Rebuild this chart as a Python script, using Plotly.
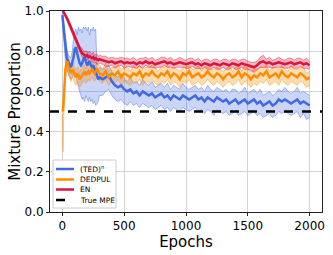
import plotly.graph_objects as go

# ---- data ----
epochs_early = [0, 5, 10, 15, 20, 25, 30, 35, 40, 50,
                60, 70, 80, 90, 100, 110, 120, 130, 140, 150,
                160, 170, 180, 190, 200, 210, 220, 230, 240, 250,
                260, 270, 280, 290, 300]
epochs_late = [325, 350, 375, 400, 425, 450, 475, 500, 525, 550,
               575, 600, 625, 650, 675, 700, 725, 750, 775, 800,
               825, 850, 875, 900, 925, 950, 975, 1000, 1025, 1050,
               1075, 1100, 1125, 1150, 1175, 1200, 1225, 1250, 1275, 1300,
               1325, 1350, 1375, 1400, 1425, 1450, 1475, 1500, 1525, 1550,
               1575, 1600, 1625, 1650, 1675, 1700, 1725, 1750, 1775, 1800,
               1825, 1850, 1875, 1900, 1925, 1950, 1975, 2000]
epochs = epochs_early + epochs_late

ted_mean = [0.98, 0.95, 0.90, 0.86, 0.83, 0.80, 0.78, 0.77, 0.76, 0.74,
            0.73, 0.72, 0.74, 0.77, 0.81, 0.82, 0.79, 0.76, 0.74, 0.73,
            0.74, 0.76, 0.77, 0.75, 0.73, 0.74, 0.75, 0.73, 0.72, 0.73,
            0.71, 0.69, 0.67, 0.66, 0.67,
            0.66, 0.67, 0.68, 0.65, 0.63, 0.62, 0.63, 0.61, 0.60, 0.61,
            0.59, 0.60, 0.58, 0.60, 0.59, 0.58, 0.59, 0.57, 0.58, 0.59,
            0.57, 0.58, 0.56, 0.58, 0.57, 0.56, 0.58, 0.57, 0.56, 0.57,
            0.58, 0.56, 0.57, 0.55, 0.57, 0.56, 0.55, 0.57, 0.56, 0.55,
            0.56, 0.54, 0.55, 0.56, 0.54, 0.55, 0.56, 0.54, 0.55, 0.56,
            0.54, 0.55, 0.53, 0.54, 0.55, 0.53, 0.54, 0.56, 0.55, 0.56,
            0.55, 0.54, 0.55, 0.56, 0.54, 0.55, 0.54, 0.53]
ted_hi = [1.00, 0.98, 0.95, 0.92, 0.89, 0.86, 0.84, 0.82, 0.80, 0.78,
          0.77, 0.77, 0.80, 0.86, 0.90, 0.91, 0.88, 0.92, 0.90, 0.91,
          0.89, 0.92, 0.91, 0.92, 0.90, 0.92, 0.88, 0.91, 0.90, 0.92,
          0.90, 0.91, 0.72, 0.71, 0.72,
          0.71, 0.72, 0.73, 0.70, 0.68, 0.67, 0.69, 0.66, 0.65, 0.67,
          0.64, 0.65, 0.63, 0.66, 0.64, 0.63, 0.65, 0.62, 0.63, 0.64,
          0.62, 0.64, 0.61, 0.63, 0.62, 0.61, 0.64, 0.62, 0.61, 0.62,
          0.63, 0.61, 0.62, 0.60, 0.63, 0.61, 0.60, 0.62, 0.61, 0.60,
          0.61, 0.59, 0.61, 0.61, 0.59, 0.60, 0.62, 0.59, 0.60, 0.61,
          0.59, 0.61, 0.58, 0.59, 0.60, 0.58, 0.59, 0.61, 0.60, 0.62,
          0.60, 0.59, 0.60, 0.62, 0.59, 0.60, 0.59, 0.58]
ted_lo = [0.96, 0.91, 0.85, 0.80, 0.77, 0.74, 0.72, 0.71, 0.70, 0.68,
          0.67, 0.66, 0.67, 0.69, 0.70, 0.68, 0.64, 0.62, 0.60, 0.58,
          0.56, 0.57, 0.55, 0.58, 0.56, 0.55, 0.57, 0.55, 0.56, 0.54,
          0.55, 0.53, 0.54, 0.55, 0.58,
          0.58, 0.60, 0.61, 0.58, 0.56, 0.55, 0.56, 0.54, 0.53, 0.55,
          0.53, 0.54, 0.52, 0.54, 0.53, 0.52, 0.53, 0.51, 0.52, 0.53,
          0.51, 0.52, 0.50, 0.52, 0.51, 0.50, 0.52, 0.51, 0.50, 0.51,
          0.52, 0.50, 0.51, 0.49, 0.51, 0.50, 0.48, 0.51, 0.50, 0.49,
          0.50, 0.48, 0.49, 0.50, 0.48, 0.49, 0.50, 0.48, 0.49, 0.50,
          0.48, 0.49, 0.47, 0.48, 0.49, 0.47, 0.48, 0.50, 0.49, 0.50,
          0.49, 0.48, 0.49, 0.50, 0.47, 0.49, 0.46, 0.47]

dedpul_mean = [0.50, 0.51, 0.55, 0.62, 0.68, 0.71, 0.73, 0.74, 0.75, 0.72,
               0.70, 0.69, 0.71, 0.70, 0.68, 0.67, 0.69, 0.68, 0.66, 0.67,
               0.68, 0.69, 0.70, 0.68, 0.69, 0.70, 0.69, 0.70, 0.71, 0.70,
               0.69, 0.70, 0.71, 0.70, 0.69,
               0.68, 0.70, 0.67, 0.69, 0.68, 0.70, 0.67, 0.69, 0.68, 0.67,
               0.69, 0.68, 0.70, 0.67, 0.69, 0.68, 0.70, 0.68, 0.67, 0.69,
               0.68, 0.70, 0.67, 0.69, 0.68, 0.66, 0.69, 0.68, 0.70, 0.67,
               0.68, 0.69, 0.67, 0.68, 0.70, 0.68, 0.67, 0.69, 0.68, 0.66,
               0.68, 0.69, 0.67, 0.68, 0.70, 0.67, 0.69, 0.68, 0.66, 0.68,
               0.67, 0.69, 0.68, 0.70, 0.67, 0.68, 0.69, 0.67, 0.70, 0.68,
               0.67, 0.69, 0.68, 0.67, 0.69, 0.68, 0.66, 0.67]
dedpul_hi = [0.51, 0.55, 0.62, 0.66, 0.71, 0.74, 0.76, 0.77, 0.78, 0.76,
             0.73, 0.73, 0.74, 0.74, 0.71, 0.71, 0.72, 0.72, 0.69, 0.71,
             0.71, 0.73, 0.73, 0.71, 0.73, 0.73, 0.73, 0.73, 0.74, 0.74,
             0.72, 0.74, 0.74, 0.73, 0.73,
             0.71, 0.74, 0.70, 0.72, 0.72, 0.73, 0.71, 0.72, 0.72, 0.70,
             0.73, 0.71, 0.73, 0.71, 0.72, 0.72, 0.73, 0.72, 0.70, 0.72,
             0.72, 0.73, 0.71, 0.72, 0.71, 0.70, 0.72, 0.72, 0.73, 0.71,
             0.71, 0.73, 0.70, 0.72, 0.73, 0.71, 0.71, 0.72, 0.71, 0.70,
             0.71, 0.73, 0.70, 0.72, 0.73, 0.70, 0.73, 0.71, 0.70, 0.71,
             0.71, 0.72, 0.72, 0.73, 0.70, 0.72, 0.72, 0.71, 0.73, 0.71,
             0.70, 0.73, 0.71, 0.71, 0.72, 0.72, 0.69, 0.70]
dedpul_lo = [0.49, 0.30, 0.45, 0.57, 0.64, 0.67, 0.69, 0.70, 0.71, 0.68,
             0.66, 0.65, 0.67, 0.66, 0.64, 0.63, 0.65, 0.64, 0.62, 0.63,
             0.64, 0.65, 0.66, 0.64, 0.65, 0.66, 0.65, 0.66, 0.67, 0.66,
             0.65, 0.66, 0.67, 0.66, 0.65,
             0.64, 0.66, 0.63, 0.65, 0.64, 0.66, 0.63, 0.65, 0.64, 0.63,
             0.65, 0.64, 0.66, 0.63, 0.65, 0.64, 0.66, 0.64, 0.63, 0.65,
             0.64, 0.66, 0.63, 0.65, 0.64, 0.62, 0.65, 0.64, 0.66, 0.63,
             0.64, 0.65, 0.63, 0.64, 0.66, 0.64, 0.63, 0.65, 0.64, 0.62,
             0.64, 0.65, 0.63, 0.64, 0.66, 0.63, 0.65, 0.64, 0.62, 0.64,
             0.63, 0.65, 0.64, 0.66, 0.63, 0.64, 0.65, 0.63, 0.66, 0.64,
             0.63, 0.65, 0.64, 0.63, 0.65, 0.64, 0.62, 0.63]

en_mean = [1.00, 1.00, 0.995, 0.99, 0.985, 0.98, 0.975, 0.97, 0.96, 0.945,
           0.93, 0.915, 0.90, 0.885, 0.87, 0.855, 0.84, 0.825, 0.81, 0.80,
           0.79, 0.785, 0.78, 0.775, 0.78, 0.77, 0.775, 0.77, 0.765, 0.77,
           0.76, 0.765, 0.76, 0.755, 0.76,
           0.755, 0.75, 0.745, 0.75, 0.74, 0.745, 0.75, 0.74, 0.745, 0.74,
           0.745, 0.735, 0.745, 0.74, 0.75, 0.74, 0.745, 0.735, 0.74, 0.745,
           0.75, 0.74, 0.745, 0.735, 0.74, 0.745, 0.74, 0.735, 0.74, 0.745,
           0.735, 0.74, 0.73, 0.74, 0.735, 0.73, 0.74, 0.735, 0.73, 0.74,
           0.735, 0.73, 0.74, 0.735, 0.73, 0.74, 0.735, 0.73, 0.725, 0.72,
           0.73, 0.745, 0.75, 0.74, 0.745, 0.735, 0.74, 0.745, 0.74, 0.735,
           0.74, 0.745, 0.735, 0.74, 0.745, 0.735, 0.74, 0.73]
en_spread = [0.003, 0.004, 0.005, 0.006, 0.008, 0.01, 0.01, 0.01, 0.012, 0.012,
             0.015, 0.015, 0.015, 0.015, 0.015, 0.015, 0.015, 0.015, 0.015, 0.02,
             0.02, 0.02, 0.02, 0.025, 0.02, 0.02, 0.025, 0.02, 0.02, 0.025,
             0.02, 0.02, 0.025, 0.02, 0.02,
             0.02, 0.025, 0.02, 0.02, 0.025, 0.02, 0.02, 0.025, 0.02, 0.02,
             0.025, 0.02, 0.02, 0.025, 0.02, 0.02, 0.025, 0.02, 0.02, 0.025,
             0.02, 0.02, 0.025, 0.02, 0.02, 0.025, 0.02, 0.02, 0.025, 0.02,
             0.02, 0.025, 0.02, 0.02, 0.025, 0.02, 0.02, 0.025, 0.02, 0.02,
             0.025, 0.02, 0.02, 0.025, 0.02, 0.02, 0.025, 0.02, 0.02, 0.025,
             0.02, 0.025, 0.03, 0.02, 0.025, 0.02, 0.02, 0.025, 0.02, 0.02,
             0.025, 0.02, 0.02, 0.025, 0.02, 0.02, 0.025, 0.02]

true_mpe = 0.5
legend_labels = ["(TED)<sup>n</sup>", "DEDPUL", "EN", "True MPE"]
x_range = [-100, 2100]
y_range = [0.0, 1.0]
x_ticks = [0, 500, 1000, 1500, 2000]
y_ticks = [0.0, 0.2, 0.4, 0.6, 0.8, 1.0]

BLUE = "#4169E1"
ORANGE = "#FF8C00"
RED = "#DC143C"
FONT = "DejaVu Sans"

W, H = 333, 255
ML, MR, MT, MB = 50, 11, 11, 43
PW, PH = W - ML - MR, H - MT - MB


def px_x(px):
    return (px - ML) / PW


def px_y(py):
    return (H - MB - py) / PH


fig = go.Figure()


def band(lo, hi, rgb, fill_alpha, line_alpha):
    fig.add_trace(go.Scatter(x=epochs, y=lo, mode="lines",
                             line=dict(color=f"rgba({rgb},{line_alpha})", width=0.8),
                             showlegend=False, hoverinfo="skip"))
    fig.add_trace(go.Scatter(x=epochs, y=hi, mode="lines", fill="tonexty",
                             fillcolor=f"rgba({rgb},{fill_alpha})",
                             line=dict(color=f"rgba({rgb},{line_alpha})", width=0.8),
                             showlegend=False, hoverinfo="skip"))


band(ted_lo, ted_hi, "65,105,225", 0.28, 0.55)
band(dedpul_lo, dedpul_hi, "255,140,0", 0.30, 0.55)
band([m - s for m, s in zip(en_mean, en_spread)],
     [m + s for m, s in zip(en_mean, en_spread)], "220,20,60", 0.30, 0.55)

fig.add_trace(go.Scatter(x=epochs, y=ted_mean, mode="lines", name=legend_labels[0],
                         line=dict(color=BLUE, width=2.5), showlegend=False))
fig.add_trace(go.Scatter(x=epochs, y=dedpul_mean, mode="lines", name=legend_labels[1],
                         line=dict(color=ORANGE, width=2.5), showlegend=False))
fig.add_trace(go.Scatter(x=epochs, y=en_mean, mode="lines", name=legend_labels[2],
                         line=dict(color=RED, width=2.5), showlegend=False))
fig.add_trace(go.Scatter(x=x_range, y=[true_mpe, true_mpe], mode="lines", name=legend_labels[3],
                         line=dict(color="black", width=2.5, dash="dash"), showlegend=False))

# ---- compact legend (matplotlib style) ----
shapes = [dict(type="rect", xref="paper", yref="paper",
               x0=px_x(53), x1=px_x(116), y0=px_y(208), y1=px_y(160),
               fillcolor="rgba(255,255,255,0.85)", line=dict(color="#cccccc", width=1),
               layer="above")]
annotations = []
leg_colors = [BLUE, ORANGE, RED, "black"]
leg_dash = ["solid", "solid", "solid", "dash"]
row_y = [169, 179.5, 189.5, 200]
for lab, col, dsh, ry in zip(legend_labels, leg_colors, leg_dash, row_y):
    shapes.append(dict(type="line", xref="paper", yref="paper",
                       x0=px_x(56), x1=px_x(74), y0=px_y(ry), y1=px_y(ry),
                       line=dict(color=col, width=2.5, dash=dsh), layer="above"))
    annotations.append(dict(xref="paper", yref="paper", x=px_x(78), y=px_y(ry),
                            xanchor="left", yanchor="middle", showarrow=False,
                            text=lab, font=dict(family=FONT, size=7.5, color="black")))

axis_common = dict(showline=True, linecolor="#222222", linewidth=1, mirror=True,
                   showgrid=True, gridcolor="#d3d3d3", gridwidth=1,
                   ticks="outside", ticklen=3, tickcolor="#222222",
                   zeroline=False, automargin=False,
                   tickfont=dict(family=FONT, size=12, color="black"))

fig.update_layout(
    width=W, height=H,
    margin=dict(l=ML, r=MR, t=MT, b=MB),
    paper_bgcolor="white", plot_bgcolor="white",
    font=dict(family=FONT, color="black"),
    xaxis=dict(range=x_range, tickvals=x_ticks,
               title=dict(text="Epochs", font=dict(family=FONT, size=15), standoff=0),
               **axis_common),
    yaxis=dict(range=y_range, tickvals=y_ticks, tickformat=".1f",
               title=dict(text="Mixture Proportion", font=dict(family=FONT, size=15), standoff=0),
               **axis_common),
    shapes=shapes,
    annotations=annotations,
    showlegend=False,
)

fig.write_html("out.html", config={"displayModeBar": False},
               post_script="document.body.style.margin='0';document.body.style.overflow='hidden';")
